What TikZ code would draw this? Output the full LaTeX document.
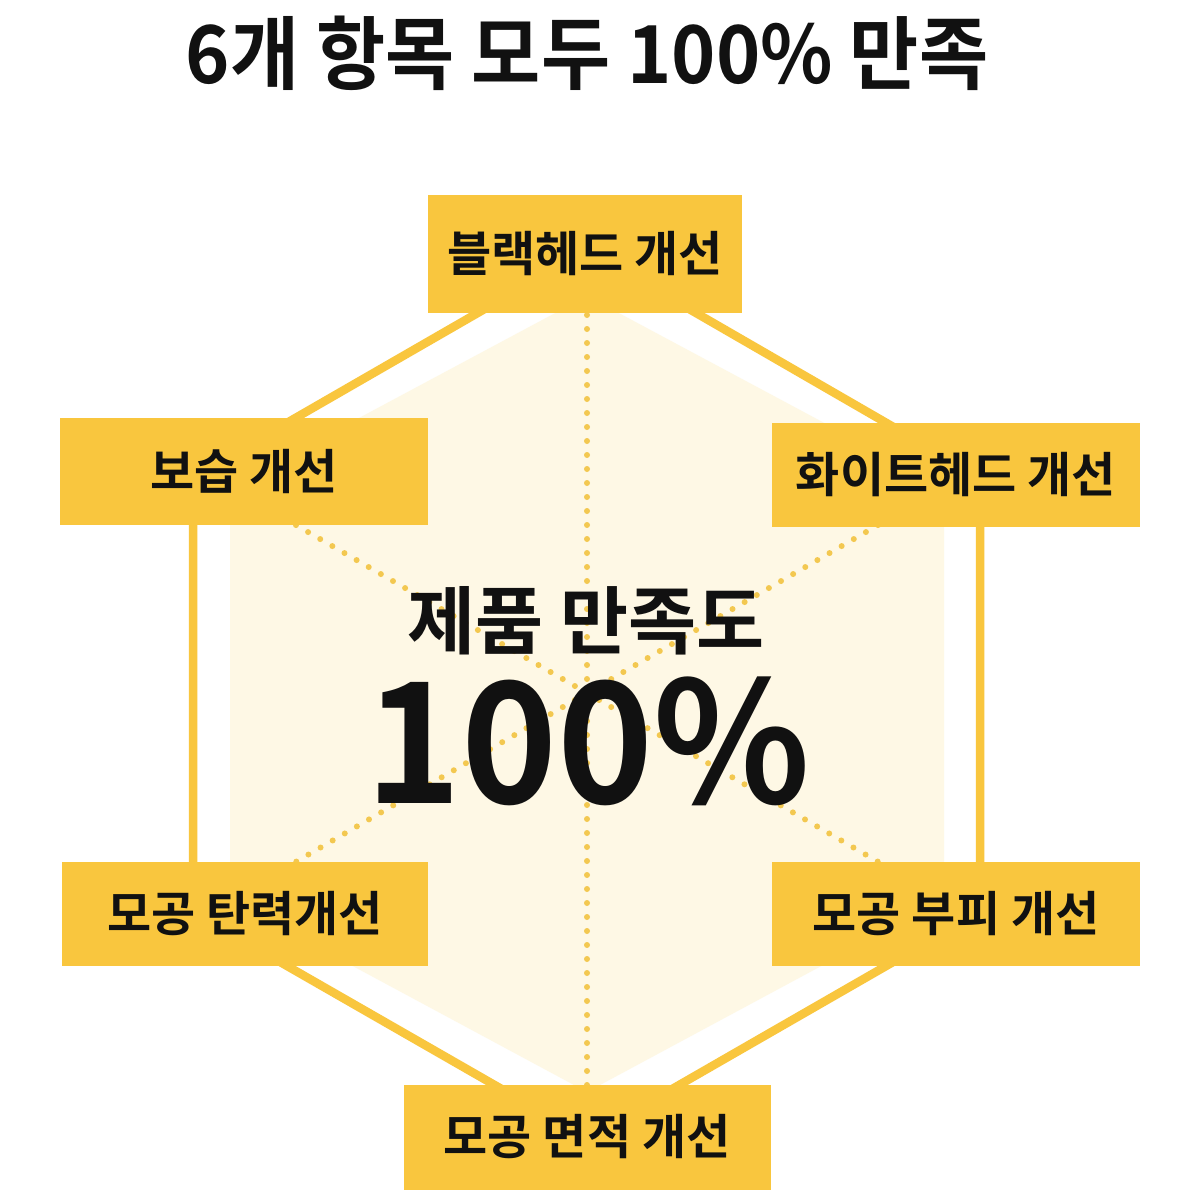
\documentclass[tikz,border=0pt]{standalone}
\usepackage{fontspec}
\setmainfont{Noto Sans CJK KR}[BoldFont={* Bold}]
\definecolor{hexY}{HTML}{F9C63E}
\definecolor{dotY}{HTML}{F3C850}
\definecolor{cream}{HTML}{FEF8E5}
\definecolor{ink}{HTML}{111111}
\begin{document}
\begin{tikzpicture}[x=1pt,y=-1pt,
  box/.style={fill=hexY, inner sep=0pt, text=ink,
    font=\fontsize{48}{50}\selectfont\bfseries},
  outline/.style={draw=hexY, line width=8.5pt, line join=miter},
  spoke/.style={draw=dotY, line width=6pt, line cap=round, dash pattern=on 0pt off 14pt}]
\useasboundingbox (0,0) rectangle (1200,1200);
\fill[white] (0,0) rectangle (1200,1200);
% title
\node[font=\fontsize{80}{82}\selectfont\bfseries, text=ink] (title) at (587,53) {\scalebox{0.94}[1]{6개 항목 모두 100\% 만족}};
% cream inner hexagon
\coordinate (cT) at (587,296);
\coordinate (cUR) at (944,487);
\coordinate (cLR) at (944,900);
\coordinate (cB) at (587,1092);
\coordinate (cLL) at (230,900);
\coordinate (cUL) at (230,487);
\coordinate (c) at (587,693);
\fill[cream] (cT) -- (cUR) -- (cLR) -- (cB) -- (cLL) -- (cUL) -- cycle;
% spokes
\foreach \v in {cT,cUR,cLR,cB,cLL,cUL}{\draw[spoke] (c) -- (\v);}
% outer hexagon
\coordinate (vT) at (587,250);
\coordinate (vUR) at (980,477);
\coordinate (vLR) at (980,912);
\coordinate (vB) at (587,1138);
\coordinate (vLL) at (193,912);
\coordinate (vUL) at (193,477);
\draw[outline] (vT) -- (vUR) -- (vLR) -- (vB) -- (vLL) -- (vUL) -- cycle;
% boxes
\node[box, minimum width=314pt, minimum height=118pt] (bT) at (585,254) {블랙헤드 개선};
\node[box, minimum width=368pt, minimum height=107pt] (bUL) at (244,471) {보습 개선};
\node[box, minimum width=368pt, minimum height=104pt] (bUR) at (956,475) {화이트헤드 개선};
\node[box, minimum width=366pt, minimum height=104pt] (bLL) at (245,914) {모공 탄력개선};
\node[box, minimum width=368pt, minimum height=104pt] (bLR) at (956,914) {모공 부피 개선};
\node[box, minimum width=367pt, minimum height=105pt] (bB) at (587,1137) {모공 면적 개선};
% center text
\node[font=\fontsize{74}{76}\selectfont\bfseries, text=ink] (sub) at (586,621) {제품 만족도};
\node[font=\fontsize{168}{170}\selectfont\bfseries, text=ink] (big) at (588,741) {\scalebox{0.97}[1]{100\%}};
\end{tikzpicture}
\end{document}
